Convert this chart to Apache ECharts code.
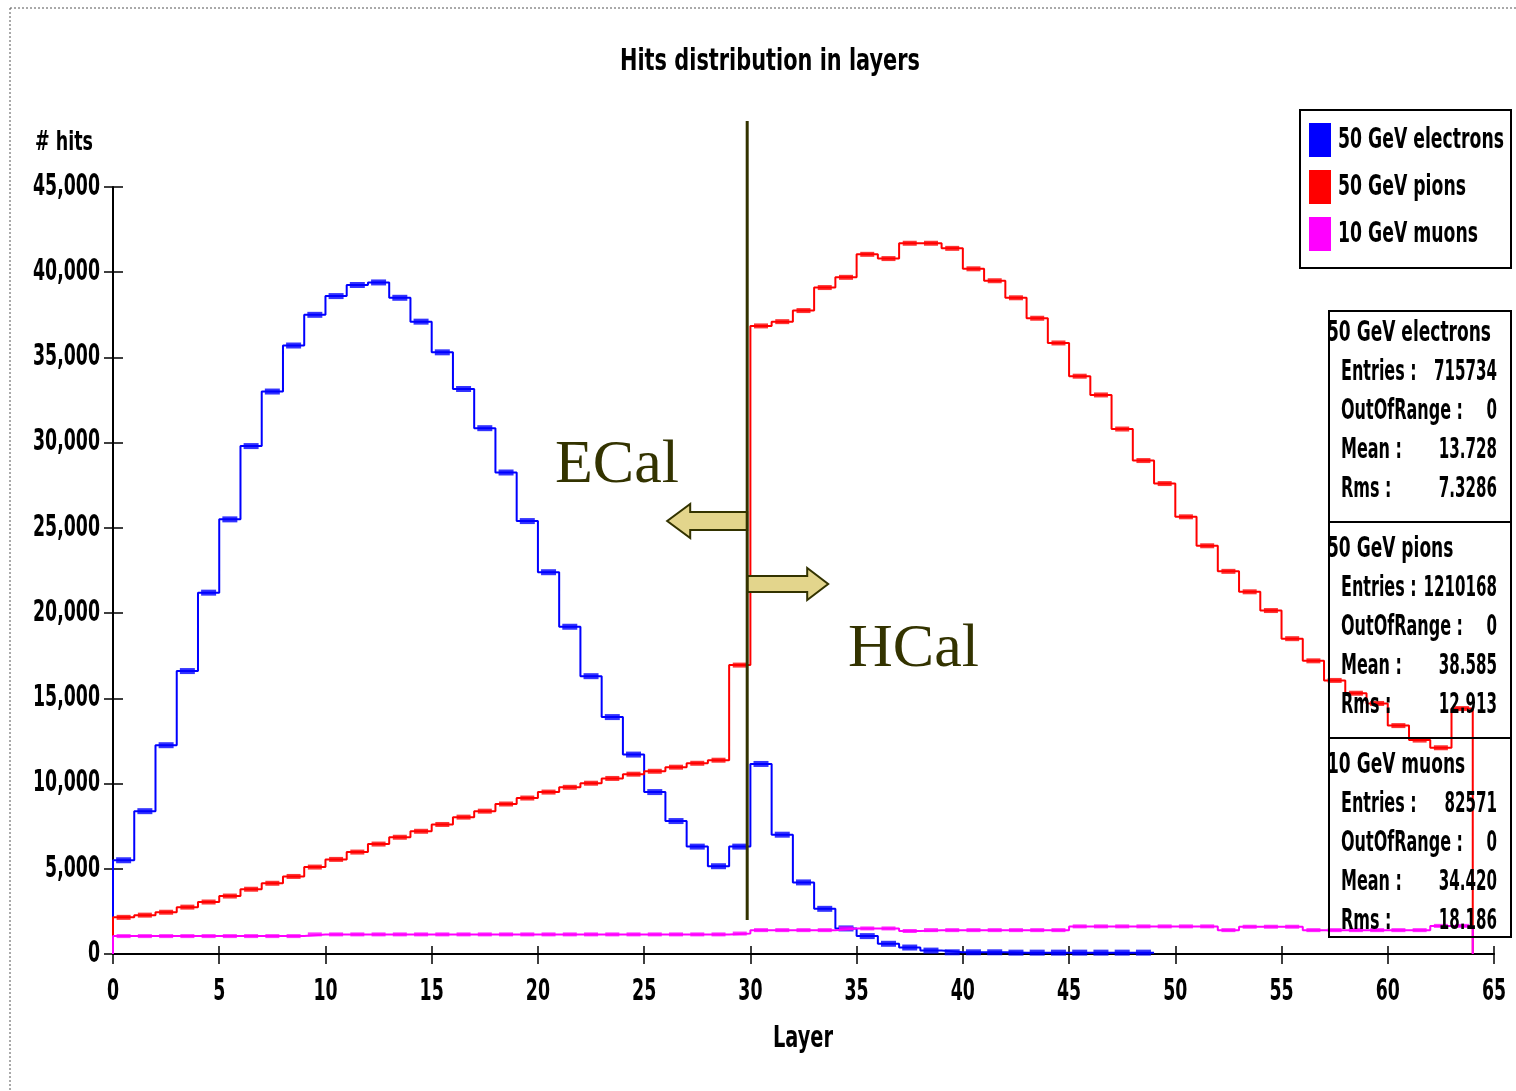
<!DOCTYPE html>
<html><head><meta charset="utf-8">
<script src="https://cdn.jsdelivr.net/npm/echarts@6/dist/echarts.min.js"></script>
<style>html,body{margin:0;padding:0;background:#fff}#c{width:1516px;height:1091px}</style>
</head><body><div id="c"></div>
<script>
const FAM = "'DejaVu Sans Condensed','DejaVu Sans',sans-serif";
const SERIF = "'Liberation Serif','DejaVu Serif',serif";

// ---- data ----
const layers = [0,1,2,3,4,5,6,7,8,9,10,11,12,13,14,15,16,17,18,19,20,21,22,23,24,25,26,27,28,29,30,31,
  32,33,34,35,36,37,38,39,40,41,42,43,44,45,46,47,48,49,50,51,52,53,54,55,56,57,58,59,60,61,62,63];
const seriesNames = ['50 GeV electrons', '50 GeV pions', '10 GeV muons'];
const electrons = [5500,8380,12250,16600,21200,25500,29800,33000,35700,37500,38600,39250,39400,38500,37100,35300,
  33150,30850,28250,25400,22400,19200,16300,13900,11700,9500,7800,6300,5150,6300,11150,7000,
  4200,2650,1500,1050,600,380,200,100,100,100,80,80,80,80,80,80,80];
const pions = [2150,2280,2450,2750,3050,3400,3800,4150,4550,5100,5550,5980,6450,6850,7200,7600,
  8030,8380,8800,9150,9500,9780,10020,10300,10550,10720,10960,11190,11370,16950,36850,37100,
  37750,39100,39700,41050,40800,41700,41700,41400,40200,39500,38500,37300,35850,33900,32800,30800,
  28950,27600,25650,23950,22450,21250,20150,18500,17200,16050,15300,14700,13400,12550,12100,14400];
const muons = [1050,1050,1050,1050,1050,1050,1050,1050,1050,1150,1150,1150,1150,1150,1150,1150,
  1150,1150,1150,1150,1150,1150,1150,1150,1150,1150,1150,1150,1150,1200,1400,1400,
  1400,1400,1500,1500,1500,1350,1400,1400,1400,1400,1400,1400,1400,1620,1620,1620,
  1620,1620,1620,1620,1400,1600,1600,1600,1400,1400,1400,1400,1400,1400,1650,1650];
const xTicks = [0,5,10,15,20,25,30,35,40,45,50,55,60,65];
const yTicks = [0,5000,10000,15000,20000,25000,30000,35000,40000,45000];
const yTickLabels = ['0','5,000','10,000','15,000','20,000','25,000','30,000','35,000','40,000','45,000'];
const statLabels = ['Entries :', 'OutOfRange :', 'Mean :', 'Rms :'];
const statEntries = ['715734', '1210168', '82571'];
const statOutOfRange = ['0', '0', '0'];
const statMean = ['13.728', '38.585', '34.420'];
const statRms = ['7.3286', '12.913', '18.186'];
const titleText = 'Hits distribution in layers';
const xName = 'Layer', yName = '# hits';
const boundaryLayer = 29.85;

const colors = ['#0000ff', '#ff0000', '#ff00ff'];

function stepData(vals, drop) {
  const d = [[layers[0], 0]];
  vals.forEach((v, i) => d.push([layers[i], v]));
  const n = vals.length;
  d.push([layers[n - 1] + 1, vals[n - 1]]);
  if (drop) d.push([layers[n - 1] + 1, 0]);
  return d;
}
function centers(vals) { return vals.map((v, i) => [layers[i] + 0.5, v]); }

// text measuring, to mimic the narrow tall font of the original
const mctx = document.createElement('canvas').getContext('2d');
function fnt(fs) { return 'bold ' + fs + 'px ' + FAM; }
function measure(t, fs) { mctx.font = fnt(fs); return mctx.measureText(t).width; }
function T(text, x, y, fs, sx, align) {
  return {
    type: 'text', x: x, y: y, scaleX: sx, scaleY: 1, z: 60,
    style: { text: text, font: fnt(fs), fill: '#000', align: align || 'left', verticalAlign: 'middle' }
  };
}

const chart = echarts.init(document.getElementById('c'));

const allVals = [electrons, pions, muons];
const drops = [false, true, true];
const markerSize = [[15, 6], [14, 5], [14, 4]];
const series = [];
allVals.forEach((vals, k) => {
  series.push({
    name: seriesNames[k], type: 'line', step: 'end', data: stepData(vals, drops[k]),
    symbol: 'none', color: colors[k], lineStyle: { color: colors[k], width: 2 },
    itemStyle: { color: colors[k] }, z: 2 + k, animation: false
  });
  series.push({
    name: seriesNames[k] + ' marker', type: 'scatter', data: centers(vals),
    symbol: 'rect', symbolSize: markerSize[k], itemStyle: { color: colors[k] },
    silent: true, z: 2 + k, animation: false
  });
});

chart.setOption({
  animation: false,
  backgroundColor: '#fff',
  grid: { left: 113, right: 22, top: 187, bottom: 137, containLabel: false },
  xAxis: [{
    type: 'value', min: xTicks[0], max: xTicks[xTicks.length - 1], interval: xTicks[1] - xTicks[0],
    axisLine: { onZero: false, lineStyle: { color: '#000', width: 2 } },
    axisTick: { length: 10, lineStyle: { color: '#000', width: 1.5 } },
    axisLabel: { show: false }, splitLine: { show: false }
  }, {
    type: 'value', position: 'bottom', min: xTicks[0], max: xTicks[xTicks.length - 1], interval: xTicks[1] - xTicks[0],
    axisLine: { show: false }, axisTick: { inside: true, length: 8, lineStyle: { color: '#000', width: 1.5 } },
    axisLabel: { show: false }, splitLine: { show: false }
  }],
  yAxis: [{
    type: 'value', min: yTicks[0], max: yTicks[yTicks.length - 1], interval: yTicks[1] - yTicks[0],
    axisLine: { show: true, onZero: false, lineStyle: { color: '#000', width: 2 } },
    axisTick: { show: true, length: 9, lineStyle: { color: '#000', width: 1.5 } },
    axisLabel: { show: false }, splitLine: { show: false }
  }, {
    type: 'value', position: 'left', min: yTicks[0], max: yTicks[yTicks.length - 1], interval: yTicks[1] - yTicks[0],
    axisLine: { show: false }, axisTick: { show: true, inside: true, length: 10, lineStyle: { color: '#000', width: 1.5 } },
    axisLabel: { show: false }, splitLine: { show: false }
  }],
  series: series
});

const p = (x, y) => chart.convertToPixel({ gridIndex: 0 }, [x, y]);
const g = [];

// ---- texts: title, axis names, tick labels ----
g.push(T(titleText, 770, 62, 30, 300 / measure(titleText, 30), 'center'));
g.push(T(yName, 35, 143, 27, 58 / measure(yName, 27), 'left'));
g.push(T(xName, 803, 1039, 30, 60 / measure(xName, 30), 'center'));
const tickFs = 30, tickSx = 67 / measure('45,000', tickFs);
yTicks.forEach((v, i) => {
  const py = p(0, v)[1];
  g.push(T(yTickLabels[i], 100, py, tickFs, tickSx, 'right'));
});
xTicks.forEach(v => {
  const px = p(v, 0)[0];
  g.push(T(String(v), px, 992, tickFs, tickSx, 'center'));
});

// ---- legend ----
const legFs = 29, legSx = 166 / measure(seriesNames[0], legFs);
g.push({ type: 'rect', shape: { x: 1300, y: 110, width: 211, height: 158 }, style: { fill: '#fff', stroke: '#000', lineWidth: 2 }, z: 58 });
[140, 187, 234].forEach((cy, k) => {
  g.push({ type: 'rect', shape: { x: 1309, y: cy - 17, width: 22, height: 34 }, style: { fill: colors[k] }, z: 59 });
  g.push(T(seriesNames[k], 1338, cy, legFs, legSx, 'left'));
});

// ---- ECal / HCal annotation ----
const lx = p(boundaryLayer, 0)[0];
const botPx = p(0, 2000)[1];
const OLIVE = '#333300', TAN = '#e3d58c';
g.push({ type: 'line', shape: { x1: lx, y1: 121, x2: lx, y2: botPx }, style: { stroke: OLIVE, lineWidth: 3 }, z: 50 });
g.push({ type: 'polygon', shape: { points: [[lx, 512], [lx - 57, 512], [lx - 57, 504], [lx - 80, 521], [lx - 57, 538], [lx - 57, 530], [lx, 530]] },
  style: { fill: TAN, stroke: OLIVE, lineWidth: 2 }, z: 49 });
g.push({ type: 'polygon', shape: { points: [[lx, 576], [lx + 60, 576], [lx + 60, 568], [lx + 81, 584], [lx + 60, 600], [lx + 60, 592], [lx, 592]] },
  style: { fill: TAN, stroke: OLIVE, lineWidth: 2 }, z: 49 });
g.push({ type: 'text', x: 555, y: 466, style: { text: 'ECal', font: '62px ' + SERIF, fill: OLIVE, verticalAlign: 'middle' }, z: 50 });
g.push({ type: 'text', x: 848, y: 650, style: { text: 'HCal', font: '62px ' + SERIF, fill: OLIVE, verticalAlign: 'middle' }, z: 50 });

// ---- stats box ----
const boxL = 1329, boxR = 1511, boxT = 311, boxB = 937;
const divs = [522, 738];
const headY = [334, 550, 766];
const stFs = 28;
const headSx = 164 / measure(seriesNames[0], stFs);
const labSx = 122 / measure('OutOfRange :', stFs);
const valSx = 63 / measure('715734', stFs);
seriesNames.forEach((nm, k) => {
  g.push(T(nm, boxL - 2, headY[k], stFs, headSx, 'left'));
  const vals = [statEntries[k], statOutOfRange[k], statMean[k], statRms[k]];
  statLabels.forEach((lab, j) => {
    const y = headY[k] + 39 * (j + 1);
    g.push(T(lab, 1341, y, stFs, labSx, 'left'));
    g.push(T(vals[j], 1497, y, stFs, valSx, 'right'));
  });
});
g.push({ type: 'rect', shape: { x: boxL, y: boxT, width: boxR - boxL, height: boxB - boxT }, style: { fill: null, stroke: '#000', lineWidth: 2 }, z: 61 });
divs.forEach(d => g.push({ type: 'line', shape: { x1: boxL, y1: d, x2: boxR, y2: d }, style: { stroke: '#000', lineWidth: 2 }, z: 61 }));

// outer dotted frame
g.push({ type: 'line', shape: { x1: 10, y1: 8, x2: 1516, y2: 8 }, style: { stroke: '#555', lineWidth: 1, lineDash: [2, 2] }, z: 1 });
g.push({ type: 'line', shape: { x1: 10, y1: 8, x2: 10, y2: 1091 }, style: { stroke: '#555', lineWidth: 1, lineDash: [2, 2] }, z: 1 });

chart.setOption({ graphic: g });
</script>
</body></html>
